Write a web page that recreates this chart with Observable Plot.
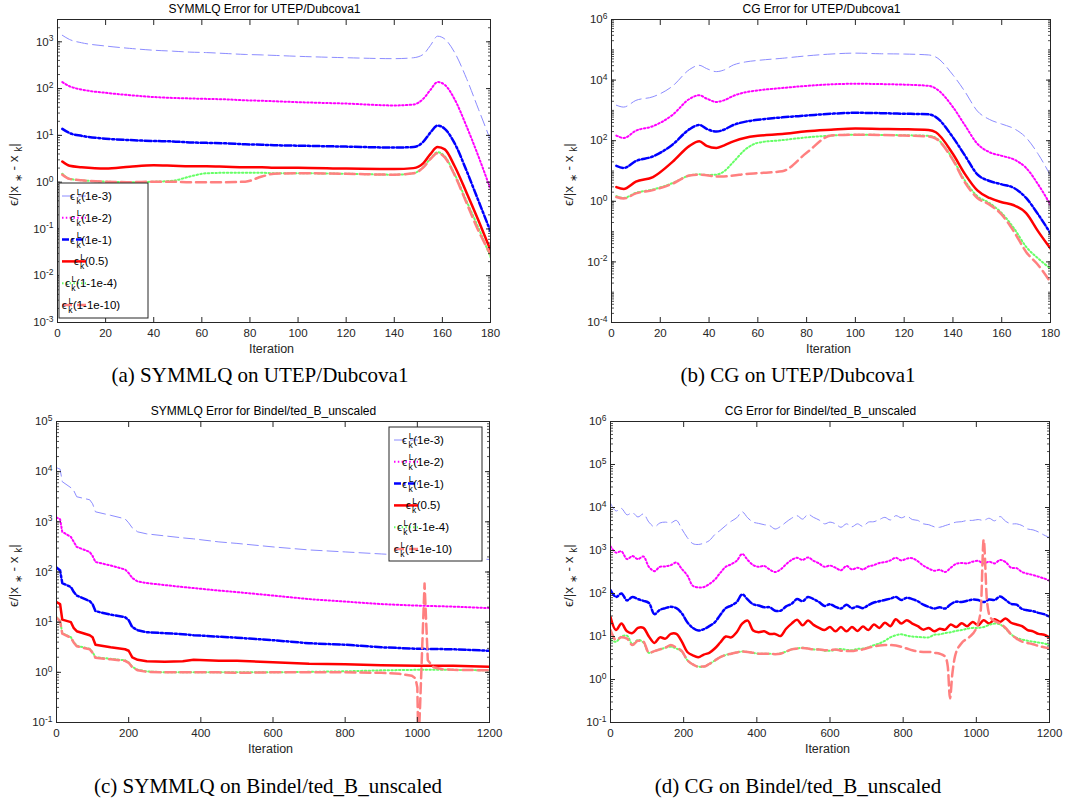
<!DOCTYPE html>
<html><head><meta charset="utf-8">
<script src="https://cdn.jsdelivr.net/npm/d3@7"></script>
<script src="https://cdn.jsdelivr.net/npm/@observablehq/plot@0.6"></script>
<style>
body{margin:0;background:#fff;}
#fig{position:relative;width:1073px;height:805px;background:#fff;overflow:hidden;}
.panel{position:absolute;}
.cap{position:absolute;font-family:"Liberation Serif","Times New Roman",serif;font-size:21px;line-height:24px;color:#000;white-space:nowrap;transform:translateX(-50%);}
</style></head><body><div id="fig"></div>
<script>
// ---------- shared labels / ticks ----------
const seriesLabels = ["1e-3", "1e-2", "1e-1", "0.5", "1-1e-4", "1-1e-10"];
const xTicks180 = [0, 20, 40, 60, 80, 100, 120, 140, 160, 180];
const xTicks1200 = [0, 200, 400, 600, 800, 1000, 1200];
const yTicksA = [1e-3, 1e-2, 1e-1, 1, 1e1, 1e2, 1e3];
const yTicksB = [1e-4, 1e-2, 1, 1e2, 1e4, 1e6];
const yTicksC = [1e-1, 1, 1e1, 1e2, 1e3, 1e4, 1e5];
const yTicksD = [1e-1, 1, 1e1, 1e2, 1e3, 1e4, 1e5, 1e6];
const titles = ["SYMMLQ Error for UTEP/Dubcova1", "CG Error for UTEP/Dubcova1",
  "SYMMLQ Error for Bindel/ted_B_unscaled", "CG Error for Bindel/ted_B_unscaled"];
const captions = ["(a) SYMMLQ on UTEP/Dubcova1", "(b) CG on UTEP/Dubcova1",
  "(c) SYMMLQ on Bindel/ted_B_unscaled", "(d) CG on Bindel/ted_B_unscaled"];

// ---------- data: values are log10 of the error ----------
// (a) SYMMLQ, UTEP/Dubcova1
const aIt = [2,5,10,20,30,40,48,55,62,70,78,85,90,100,120,140,148,152,155,158,161,165,170,175,180];
const a1e3 = [3.14,3.05,2.98,2.91,2.86,2.82,2.8,2.78,2.77,2.75,2.73,2.72,2.71,2.69,2.66,2.64,2.66,2.73,2.92,3.12,3.06,2.78,2.22,1.56,0.9];
const a1e2 = [2.14,2.05,1.98,1.91,1.86,1.82,1.8,1.79,1.78,1.77,1.75,1.74,1.73,1.71,1.68,1.64,1.66,1.78,1.97,2.14,2.08,1.78,1.2,0.55,-0.15];
const a1e1 = [1.14,1.05,0.99,0.93,0.9,0.88,0.87,0.85,0.84,0.83,0.81,0.8,0.79,0.78,0.76,0.74,0.75,0.86,1.06,1.21,1.14,0.84,0.25,-0.4,-1.05];
const a05 = [0.44,0.35,0.32,0.29,0.33,0.36,0.35,0.34,0.34,0.33,0.32,0.32,0.31,0.31,0.29,0.28,0.3,0.4,0.6,0.75,0.7,0.35,-0.22,-0.82,-1.45];
const a1m4 = [0.18,0.07,0.04,0.01,0.0,0.01,0.03,0.12,0.19,0.2,0.2,0.2,0.19,0.19,0.18,0.16,0.19,0.32,0.5,0.64,0.55,0.18,-0.4,-0.98,-1.6];
const a1m10 = [0.16,0.07,0.04,0.01,0.0,0.01,0.01,0.0,0.0,0.0,0.01,0.12,0.18,0.19,0.18,0.16,0.19,0.31,0.49,0.62,0.53,0.16,-0.44,-1.04,-1.54];

// (b) CG, UTEP/Dubcova1
const bIt = [2,5,10,17,25,32,36,39,43,46,50,55,60,70,80,90,100,110,120,130,133,140,145,150,155,160,165,170,175,180];
const b1e3 = [3.17,3.11,3.33,3.45,3.8,4.35,4.49,4.38,4.28,4.33,4.5,4.6,4.65,4.72,4.8,4.86,4.89,4.87,4.86,4.83,4.76,4.17,3.61,2.98,2.7,2.55,2.4,2.1,1.55,0.85];
const b1e2 = [2.17,2.09,2.33,2.48,2.85,3.38,3.5,3.39,3.28,3.33,3.48,3.6,3.66,3.74,3.81,3.86,3.88,3.87,3.85,3.81,3.72,3.11,2.5,1.9,1.62,1.5,1.38,1.1,0.55,-0.12];
const b1e1 = [1.17,1.1,1.33,1.48,1.87,2.38,2.52,2.39,2.3,2.36,2.52,2.63,2.69,2.77,2.83,2.89,2.92,2.91,2.89,2.87,2.78,2.11,1.5,0.89,0.67,0.56,0.44,0.11,-0.44,-1.06];
const b05 = [0.47,0.41,0.65,0.8,1.3,1.83,1.98,1.83,1.76,1.84,1.98,2.1,2.16,2.22,2.31,2.36,2.4,2.39,2.38,2.35,2.28,1.56,0.89,0.36,0.11,-0.03,-0.13,-0.39,-1.0,-1.56];
const b1m4 = [0.17,0.11,0.28,0.39,0.6,0.85,0.89,0.87,0.88,0.98,1.3,1.72,1.93,2.02,2.11,2.17,2.2,2.19,2.18,2.16,2.09,1.39,0.67,0.17,-0.06,-0.39,-0.89,-1.5,-1.89,-2.22];
const b1m10 = [0.14,0.09,0.26,0.37,0.58,0.85,0.88,0.86,0.82,0.82,0.85,0.9,0.93,0.99,1.6,2.17,2.2,2.19,2.17,2.14,2.07,1.36,0.61,0.11,-0.11,-0.44,-1.0,-1.67,-2.11,-2.67];

// (c) SYMMLQ, Bindel/ted_B_unscaled
const cIt = [0,10,16,40,48,56,92,100,108,150,190,200,210,225,250,300,350,380,450,500,600,700,800,900,1000,1100,1200];
const c1e3 = [4.08,4.05,3.8,3.68,3.62,3.5,3.44,3.36,3.2,3.13,3.06,2.98,2.88,2.8,2.76,2.72,2.68,2.66,2.6,2.57,2.5,2.44,2.4,2.36,2.32,2.29,2.25];
const c1e2 = [3.09,3.05,2.8,2.7,2.6,2.5,2.4,2.32,2.2,2.13,2.05,1.98,1.88,1.81,1.78,1.74,1.7,1.68,1.63,1.6,1.53,1.46,1.41,1.36,1.33,1.31,1.28];
const c1e1 = [2.09,2.03,1.78,1.7,1.6,1.53,1.42,1.36,1.22,1.15,1.1,1.04,0.9,0.84,0.8,0.78,0.76,0.74,0.71,0.69,0.64,0.58,0.55,0.5,0.47,0.46,0.43];
const c05 = [1.4,1.36,1.05,1.0,0.88,0.82,0.74,0.7,0.55,0.5,0.46,0.43,0.3,0.25,0.22,0.21,0.22,0.25,0.23,0.23,0.2,0.17,0.16,0.14,0.13,0.13,0.11];
const c1m4 = [1.1,1.03,0.78,0.7,0.6,0.53,0.47,0.4,0.3,0.27,0.24,0.2,0.11,0.05,0.02,0.0,0.0,0.0,0.0,0.0,0.0,0.01,0.02,0.04,0.05,0.05,0.04];
const cSalIt = [0,10,16,40,48,56,92,100,108,150,190,200,210,225,250,300,350,380,450,500,600,700,800,900,950,985,995,1000,1003,1008,1013,1020,1029,1045,1070,1100,1200];
const c1m10 = [1.09,1.02,0.77,0.69,0.59,0.52,0.46,0.39,0.29,0.26,0.23,0.19,0.1,0.04,0.01,0.0,0.0,0.0,0.0,-0.01,0.0,0.0,0.0,-0.01,-0.03,-0.07,-0.12,-0.3,-1.5,-0.6,0.4,1.77,0.24,0.1,0.06,0.05,0.04];

// (d) CG, Bindel/ted_B_unscaled
const dIt = [0,15,30,45,60,75,90,105,120,135,150,165,180,195,210,225,240,255,270,285,300,315,330,345,360,375,390,405,420,435,450,465,480,495,510,525,540,555,570,585,600,615,630,645,660,675,690,705,720,735,750,765,780,795,810,825,840,855,870,885,900,915,930,945,960,975,990,1005,1020,1035,1050,1065,1080,1095,1110,1125,1140,1155,1170,1185,1200];
const d1e3 = [4.1,3.92,3.98,3.83,3.88,3.78,3.85,3.66,3.55,3.64,3.66,3.64,3.7,3.5,3.3,3.16,3.14,3.17,3.23,3.37,3.47,3.58,3.68,3.76,3.9,3.76,3.66,3.63,3.6,3.58,3.5,3.56,3.66,3.75,3.81,3.73,3.84,3.77,3.71,3.62,3.66,3.62,3.54,3.62,3.55,3.62,3.56,3.66,3.67,3.72,3.77,3.71,3.81,3.76,3.8,3.72,3.7,3.62,3.6,3.55,3.54,3.58,3.62,3.66,3.67,3.7,3.7,3.72,3.7,3.75,3.69,3.79,3.68,3.62,3.62,3.58,3.5,3.48,3.43,3.36,3.3];
const d1e2 = [3.1,2.95,2.98,2.8,2.87,2.8,2.86,2.62,2.52,2.62,2.63,2.66,2.72,2.57,2.42,2.18,2.14,2.15,2.22,2.32,2.48,2.62,2.68,2.76,2.92,2.78,2.66,2.62,2.64,2.56,2.5,2.56,2.68,2.78,2.83,2.78,2.84,2.76,2.7,2.62,2.65,2.6,2.54,2.64,2.56,2.6,2.56,2.63,2.66,2.71,2.73,2.77,2.83,2.77,2.81,2.82,2.75,2.65,2.58,2.53,2.55,2.5,2.6,2.69,2.71,2.7,2.74,2.76,2.7,2.74,2.7,2.78,2.73,2.6,2.59,2.5,2.46,2.43,2.39,2.35,2.3];
const d1e1 = [2.08,1.92,2.0,1.84,1.92,1.87,1.83,1.78,1.52,1.62,1.66,1.69,1.66,1.54,1.33,1.2,1.14,1.17,1.24,1.33,1.5,1.66,1.72,1.8,1.98,1.86,1.75,1.72,1.68,1.68,1.6,1.6,1.7,1.76,1.87,1.82,1.92,1.87,1.8,1.71,1.75,1.69,1.65,1.74,1.66,1.7,1.66,1.73,1.79,1.82,1.85,1.88,1.92,1.85,1.9,1.87,1.82,1.74,1.69,1.65,1.68,1.65,1.75,1.81,1.8,1.83,1.86,1.85,1.8,1.86,1.85,1.93,1.85,1.76,1.74,1.64,1.61,1.59,1.55,1.52,1.46];
const d05 = [1.45,1.15,1.3,1.12,1.08,1.2,1.2,1.0,0.85,0.98,0.95,1.06,1.06,0.88,0.64,0.56,0.52,0.58,0.62,0.72,0.86,1.0,0.98,1.1,1.3,1.37,1.14,1.1,1.12,1.06,1.06,1.01,1.18,1.3,1.39,1.26,1.37,1.27,1.2,1.15,1.22,1.12,1.22,1.12,1.22,1.13,1.23,1.15,1.28,1.2,1.32,1.24,1.4,1.3,1.38,1.3,1.24,1.16,1.2,1.12,1.18,1.16,1.28,1.22,1.31,1.24,1.34,1.26,1.38,1.3,1.4,1.34,1.42,1.32,1.28,1.24,1.15,1.12,1.06,1.04,0.98];
const d1m4 = [0.92,0.88,1.0,1.02,0.82,0.92,0.86,0.62,0.66,0.7,0.74,0.76,0.72,0.65,0.45,0.35,0.3,0.3,0.36,0.44,0.52,0.57,0.6,0.63,0.65,0.64,0.62,0.6,0.6,0.6,0.59,0.61,0.65,0.7,0.72,0.74,0.72,0.7,0.7,0.67,0.67,0.69,0.71,0.69,0.68,0.71,0.72,0.75,0.8,0.84,0.9,0.98,1.03,1.05,1.02,1.0,0.99,0.98,0.98,1.04,1.05,1.08,1.1,1.13,1.15,1.18,1.2,1.2,1.22,1.27,1.3,1.28,1.18,1.05,0.97,0.93,0.9,0.88,0.86,0.84,0.8];
const dSalIt = [0,15,30,45,60,75,90,105,120,135,150,165,180,195,210,225,240,255,270,285,300,315,330,345,360,375,390,405,420,435,450,465,480,495,510,525,540,555,570,585,600,615,630,645,660,675,690,705,720,735,750,765,780,795,810,825,840,855,870,885,900,915,922,928,934,942,960,980,1000,1012,1020,1029,1038,1050,1065,1080,1095,1110,1125,1140,1155,1170,1185,1200];
const d1m10 = [1.15,0.92,0.98,0.95,0.8,0.9,0.88,0.62,0.66,0.7,0.74,0.8,0.74,0.66,0.45,0.35,0.3,0.3,0.36,0.44,0.52,0.57,0.6,0.63,0.65,0.64,0.62,0.6,0.6,0.6,0.59,0.6,0.65,0.7,0.72,0.73,0.72,0.7,0.7,0.68,0.68,0.7,0.67,0.66,0.66,0.68,0.7,0.74,0.77,0.79,0.8,0.8,0.79,0.76,0.72,0.68,0.65,0.64,0.64,0.62,0.6,0.53,0.3,-0.44,0.1,0.55,0.85,0.98,1.2,1.6,3.25,1.84,1.45,1.36,1.3,1.2,1.05,0.95,0.88,0.85,0.82,0.78,0.75,0.72];

// ---------- styles ----------
const INK = "#262626";
const FONT = "'Liberation Sans', Arial, Helvetica, sans-serif";
const lineStyles = [
  {stroke: "#8c8cff", strokeWidth: 1, strokeDasharray: "11,5"},
  {stroke: "#ff00ff", strokeWidth: 2, strokeDasharray: "1.5,2.3"},
  {stroke: "#0000ff", strokeWidth: 2.5, strokeDasharray: "7,2.5,2,2.5"},
  {stroke: "#ff0000", strokeWidth: 2.5},
  {stroke: "#66ff66", strokeWidth: 2, strokeDasharray: "1.5,2.3"},
  {stroke: "#ff8080", strokeWidth: 2.5, strokeDasharray: "10,5"}
];

function toRows(it, logs) {
  const n = Math.min(it.length, logs.length);
  const out = [];
  for (let i = 0; i < n; i++) out.push({x: it[i], y: 10 ** logs[i]});
  return out;
}

const panels = [
  {left: 0, top: 0, width: 536, height: 400, ml: 57, mr: 46, mt: 19, mb: 78,
   xDomain: [0, 180], xTicks: xTicks180, yDomain: [1e-3, 3e3], yTicks: yTicksA, ylabX: 18,
   curves: ["monotone-x","monotone-x","monotone-x","monotone-x","monotone-x","monotone-x"],
   its: [aIt, aIt, aIt, aIt, aIt, aIt], vals: [a1e3, a1e2, a1e1, a05, a1m4, a1m10],
   legend: {x: 59, y: 183, w: 89, h: 135, lx: 3}, cap: {x: 260, y: 375}},
  {left: 536, top: 0, width: 537, height: 400, ml: 75, mr: 23, mt: 19, mb: 78,
   xDomain: [0, 180], xTicks: xTicks180, yDomain: [1e-4, 1e6], yTicks: yTicksB, ylabX: 37,
   curves: ["monotone-x","monotone-x","monotone-x","monotone-x","monotone-x","monotone-x"],
   its: [bIt, bIt, bIt, bIt, bIt, bIt], vals: [b1e3, b1e2, b1e1, b05, b1m4, b1m10],
   legend: null, cap: {x: 798, y: 375}},
  {left: 0, top: 400, width: 536, height: 405, ml: 56, mr: 47, mt: 21, mb: 83,
   xDomain: [0, 1200], xTicks: xTicks1200, yDomain: [1e-1, 1e5], yTicks: yTicksC, ylabX: 18,
   curves: ["linear","linear","linear","linear","linear","linear"],
   its: [cIt, cIt, cIt, cIt, cIt, cSalIt], vals: [c1e3, c1e2, c1e1, c05, c1m4, c1m10],
   legend: {x: 389, y: 427, w: 93, h: 134, lx: 5}, cap: {x: 268, y: 786}},
  {left: 536, top: 400, width: 537, height: 405, ml: 74, mr: 24, mt: 21, mb: 83,
   xDomain: [0, 1200], xTicks: xTicks1200, yDomain: [1e-1, 1e6], yTicks: yTicksD, ylabX: 37,
   curves: ["catmull-rom","catmull-rom","catmull-rom","catmull-rom","catmull-rom","monotone-x"],
   its: [dIt, dIt, dIt, dIt, dIt, dSalIt], vals: [d1e3, d1e2, d1e1, d05, d1m4, d1m10],
   legend: null, cap: {x: 798, y: 786}}
];

function minorTicks(dom) {
  const out = [];
  const e0 = Math.floor(Math.log10(dom[0])), e1 = Math.ceil(Math.log10(dom[1]));
  for (let e = e0; e <= e1; e++) for (let m = 1; m <= 9; m++) {
    const v = m * 10 ** e;
    if (v >= dom[0] * 0.999 && v <= dom[1] * 1.001) out.push(v);
  }
  return out;
}

const fmtPow = d => "10^" + Math.round(Math.log10(d));

function richText(sel, parts) {
  parts.forEach(p => {
    const t = sel.append("tspan").text(p.t);
    if (p.dx != null) t.attr("dx", p.dx);
    if (p.dy != null) t.attr("dy", p.dy);
    if (p.fs != null) t.attr("font-size", p.fs);
  });
}

const fig = document.getElementById("fig");

panels.forEach((p, pi) => {
  const marks = [];
  p.vals.forEach((v, i) => {
    marks.push(Plot.line(toRows(p.its[i], v), {x: "x", y: "y", curve: p.curves[i], clip: true, ...lineStyles[i]}));
  });
  marks.push(Plot.frame({stroke: INK, strokeWidth: 1}));
  const blank = () => "";
  marks.push(Plot.axisX(p.xTicks, {anchor: "bottom", tickSize: 5, dy: -5, tickFormat: blank, label: null, stroke: INK}));
  marks.push(Plot.axisX(p.xTicks, {anchor: "top", tickSize: 5, dy: 5, tickFormat: blank, label: null, stroke: INK}));
  marks.push(Plot.axisX(p.xTicks, {anchor: "bottom", tickSize: 0, tickPadding: 6, tickFormat: d => String(d), label: null, fill: INK, fontSize: 11.5}));
  const minor = minorTicks(p.yDomain);
  marks.push(Plot.axisY(p.yTicks, {anchor: "left", tickSize: 5, dx: 5, tickFormat: blank, label: null, stroke: INK}));
  marks.push(Plot.axisY(p.yTicks, {anchor: "right", tickSize: 5, dx: -5, tickFormat: blank, label: null, stroke: INK}));
  marks.push(Plot.axisY(minor, {anchor: "left", tickSize: 3, dx: 3, tickFormat: blank, label: null, stroke: INK, strokeWidth: 0.8}));
  marks.push(Plot.axisY(minor, {anchor: "right", tickSize: 3, dx: -3, tickFormat: blank, label: null, stroke: INK, strokeWidth: 0.8}));
  marks.push(Plot.axisY(p.yTicks, {anchor: "left", tickSize: 0, tickPadding: 4, tickFormat: fmtPow, label: null, fill: INK, fontSize: 11.5}));

  const svg = Plot.plot({
    width: p.width, height: p.height,
    marginLeft: p.ml, marginRight: p.mr, marginTop: p.mt, marginBottom: p.mb,
    x: {domain: p.xDomain, label: null},
    y: {type: "log", domain: p.yDomain, label: null},
    style: {fontFamily: FONT, fontSize: "11px", color: INK, background: "white", overflow: "visible"},
    marks
  });

  const s = d3.select(svg);
  s.selectAll('g[aria-label="y-axis tick label"] text').each(function () {
    const txt = this.textContent;
    if (!txt.startsWith("10^")) return;
    const e = txt.slice(3);
    const t = d3.select(this);
    t.text("10");
    t.append("tspan").attr("dy", "-0.5em").attr("font-size", "8.5px").text(e);
  });

  const fx0 = p.ml, fx1 = p.width - p.mr, fy0 = p.mt, fy1 = p.height - p.mb;
  const cx = (fx0 + fx1) / 2, cy = (fy0 + fy1) / 2;
  s.append("text").attr("x", cx - 9).attr("y", fy0 - 6).attr("text-anchor", "middle")
    .attr("font-family", FONT).attr("font-size", 12).attr("fill", "#000").text(titles[pi]);
  s.append("text").attr("x", cx - 2).attr("y", fy1 + 31).attr("text-anchor", "middle")
    .attr("font-family", FONT).attr("font-size", 12.5).attr("fill", INK).text("Iteration");
  const yl = s.append("text").attr("transform", `translate(${p.ylabX},${cy + 4}) rotate(-90)`)
    .attr("text-anchor", "middle").attr("font-family", FONT).attr("font-size", 13.5).attr("fill", INK);
  richText(yl, [{t: "\u03F5/|x "}, {t: "\u2217", dy: 3.5, fs: 10}, {t: " - x ", dy: -3.5}, {t: "k", dy: 3.5, fs: 10}, {t: "|", dy: -3.5}]);

  if (p.legend) {
    const L = p.legend;
    const lx0 = L.x - p.left, ly0 = L.y - p.top;
    const g = s.append("g");
    g.append("rect").attr("x", lx0).attr("y", ly0).attr("width", L.w).attr("height", L.h)
      .attr("fill", "white").attr("stroke", INK).attr("stroke-width", 1);
    seriesLabels.forEach((lab, i) => {
      const yy = ly0 + 13 + i * 21.8;
      const st = lineStyles[i];
      g.append("line").attr("x1", lx0 + L.lx).attr("x2", lx0 + L.lx + 24).attr("y1", yy).attr("y2", yy)
        .attr("stroke", st.stroke).attr("stroke-width", st.strokeWidth)
        .attr("stroke-dasharray", st.strokeDasharray || null);
      const t = g.append("text").attr("x", lx0 + L.lx + 29).attr("y", yy + 4)
        .attr("font-family", FONT).attr("font-size", 11.5).attr("fill", "#000");
      richText(t, [{t: "\u03F5"}, {t: "L", dx: 1.5, dy: -5.5, fs: 8.5}, {t: "k", dx: -5, dy: 9.5, fs: 8.5}, {t: "(" + lab + ")", dx: 0.5, dy: -4}]);
    });
  }

  const wrap = document.createElement("div");
  wrap.className = "panel";
  wrap.style.left = p.left + "px";
  wrap.style.top = p.top + "px";
  wrap.appendChild(svg);
  fig.appendChild(wrap);

  const cap = document.createElement("div");
  cap.className = "cap";
  cap.style.left = p.cap.x + "px";
  cap.style.top = (p.cap.y - 12) + "px";
  cap.textContent = captions[pi];
  fig.appendChild(cap);
});
</script></body></html>
